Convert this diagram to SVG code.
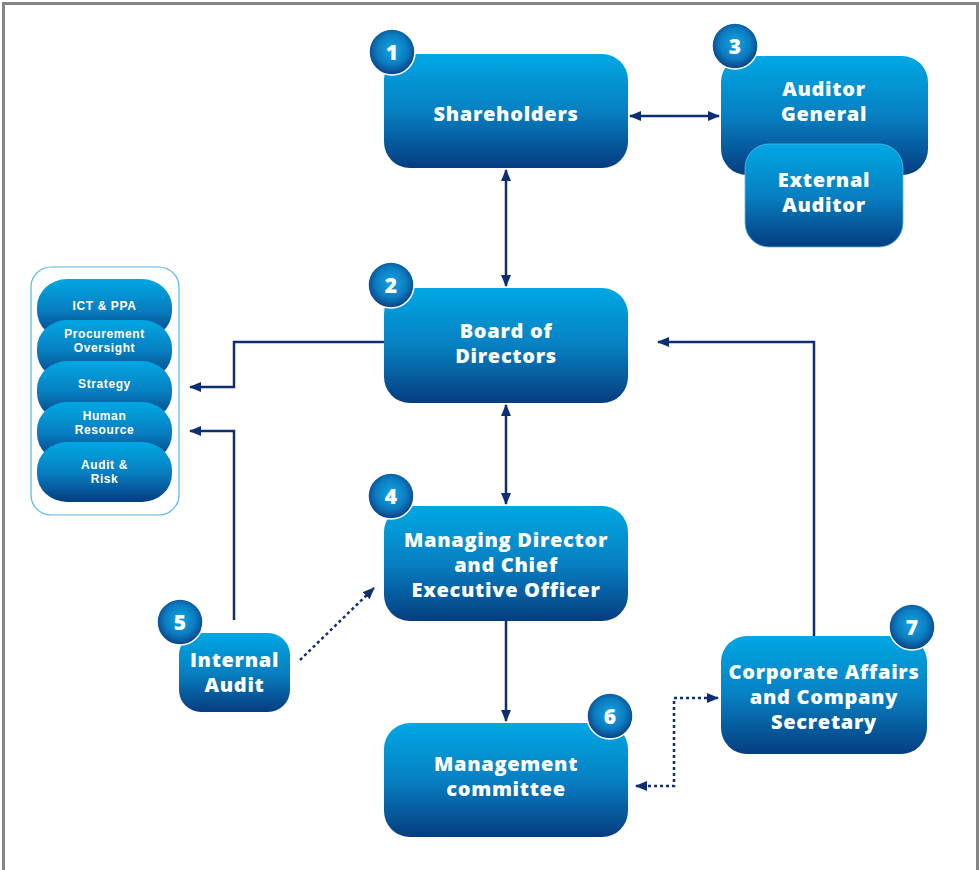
<svg xmlns="http://www.w3.org/2000/svg" width="979" height="870" viewBox="0 0 979 870">
  <defs>
    <linearGradient id="boxFill" x1="0" y1="0" x2="0" y2="1">
      <stop offset="0" stop-color="#00a7e4"/>
      <stop offset="0.5" stop-color="#0780c2"/>
      <stop offset="1" stop-color="#053d80"/>
    </linearGradient>
    <radialGradient id="badgeFill" cx="0.5" cy="0.45" r="0.55">
      <stop offset="0" stop-color="#13a6e2"/>
      <stop offset="0.6" stop-color="#0b7cc0"/>
      <stop offset="1" stop-color="#0a3f82"/>
    </radialGradient>
    <marker id="arrow" viewBox="0 0 12 10" refX="11" refY="5" markerWidth="12" markerHeight="10" markerUnits="userSpaceOnUse" orient="auto-start-reverse">
      <path d="M0,0 L12,5 L0,10 Z" fill="#0d2f72"/>
    </marker>
  </defs>
  <style>
    .box { fill: url(#boxFill); }
    .pill { fill: url(#boxFill); }
    .badge { fill: url(#badgeFill); stroke: #ffffff; stroke-width: 1.5; }
    .label { font-family: "Open Sans", "Liberation Sans", sans-serif; font-weight: 800; font-size: 20px; letter-spacing: 0.7px; fill: #ffffff; text-anchor: middle; }
    .small { font-family: "Liberation Sans", "Open Sans", sans-serif; font-weight: 700; font-size: 12px; letter-spacing: 0.6px; fill: #ffffff; text-anchor: middle; }
    .num { font-family: "Open Sans", "Liberation Sans", sans-serif; font-weight: 800; font-size: 21px; fill: #ffffff; text-anchor: middle; }
    .link { fill: none; stroke: #0d2f72; stroke-width: 2.5; }
    .dotted { stroke-dasharray: 3 3; }
  </style>

  <!-- frame -->
  <path d="M3.5,870 V3.5 H977.5 V870" fill="none" stroke="#858585" stroke-width="3"/>

  <!-- connectors -->
  <g id="connectors">
    <line class="link" x1="630" y1="116" x2="719" y2="116" marker-start="url(#arrow)" marker-end="url(#arrow)"/>
    <line class="link" x1="506" y1="170" x2="506" y2="286" marker-start="url(#arrow)" marker-end="url(#arrow)"/>
    <line class="link" x1="506" y1="405" x2="506" y2="504" marker-start="url(#arrow)" marker-end="url(#arrow)"/>
    <line class="link" x1="506" y1="621" x2="506" y2="721" marker-end="url(#arrow)"/>
    <polyline class="link" points="384,342 234,342 234,387 190,387" marker-end="url(#arrow)"/>
    <polyline class="link" points="234,620 234,431 190,431" marker-end="url(#arrow)"/>
    <line class="link dotted" x1="300" y1="660" x2="374" y2="588" marker-end="url(#arrow)"/>
    <polyline class="link" points="814,636 814,342 658,342" marker-end="url(#arrow)"/>
    <polyline class="link dotted" points="636,786 674,786 674,698 718,698" marker-start="url(#arrow)" marker-end="url(#arrow)"/>
  </g>

  <!-- committees -->
  <g id="committees">
    <rect x="31" y="267" width="148" height="248" rx="20" fill="#ffffff" stroke="#4fb8e8" stroke-width="1.2"/>
    <rect class="pill" x="37" y="279" width="135" height="60" rx="30" ry="28"/>
    <text class="small" x="104.5" y="309.5">ICT &amp; PPA</text>
    <rect class="pill" x="37" y="320" width="135" height="60" rx="30" ry="28"/>
    <text class="small" x="104.5" y="338">Procurement</text>
    <text class="small" x="104.5" y="352">Oversight</text>
    <rect class="pill" x="37" y="361" width="135" height="60" rx="30" ry="28"/>
    <text class="small" x="104.5" y="387.5">Strategy</text>
    <rect class="pill" x="37" y="402" width="135" height="60" rx="30" ry="28"/>
    <text class="small" x="104.5" y="420">Human</text>
    <text class="small" x="104.5" y="434">Resource</text>
    <rect class="pill" x="37" y="442" width="135" height="60" rx="30" ry="28"/>
    <text class="small" x="104.5" y="469">Audit &amp;</text>
    <text class="small" x="104.5" y="483">Risk</text>
  </g>

  <!-- 1 shareholders -->
  <g id="shareholders">
    <rect class="box" x="384" y="54" width="244" height="114" rx="26"/>
    <text class="label" x="506" y="121">Shareholders</text>
    <circle class="badge" cx="392" cy="52" r="23"/>
    <text class="num" x="392" y="59.5">1</text>
  </g>

  <!-- 3 auditors -->
  <g id="auditor-general">
    <rect class="box" x="721" y="56" width="207" height="119" rx="26"/>
    <text class="label" x="824" y="96">Auditor</text>
    <text class="label" x="824" y="121">General</text>
    <circle class="badge" cx="735" cy="46" r="23"/>
    <text class="num" x="735" y="53.5">3</text>
  </g>
  <g id="external-auditor">
    <rect class="box" x="745" y="144" width="158" height="103" rx="24" stroke="#5ab9e6" stroke-width="0.8"/>
    <text class="label" x="824" y="187">External</text>
    <text class="label" x="824" y="212">Auditor</text>
  </g>

  <!-- 2 board -->
  <g id="board">
    <rect class="box" x="384" y="288" width="244" height="115" rx="26"/>
    <text class="label" x="506" y="338">Board of</text>
    <text class="label" x="506" y="363">Directors</text>
    <circle class="badge" cx="391" cy="285" r="23"/>
    <text class="num" x="391" y="292.5">2</text>
  </g>

  <!-- 4 managing director -->
  <g id="managing-director">
    <rect class="box" x="384" y="506" width="244" height="115" rx="26"/>
    <text class="label" x="506" y="547">Managing Director</text>
    <text class="label" x="506" y="572">and Chief</text>
    <text class="label" x="506" y="597">Executive Officer</text>
    <circle class="badge" cx="391" cy="496" r="23"/>
    <text class="num" x="391" y="503.5">4</text>
  </g>

  <!-- 5 internal audit -->
  <g id="internal-audit">
    <rect class="box" x="179" y="633" width="111" height="79" rx="22"/>
    <text class="label" x="234.5" y="667">Internal</text>
    <text class="label" x="234.5" y="692">Audit</text>
    <circle class="badge" cx="180" cy="622" r="23"/>
    <text class="num" x="180" y="629.5">5</text>
  </g>

  <!-- 6 management committee -->
  <g id="management">
    <rect class="box" x="384" y="723" width="244" height="114" rx="26"/>
    <text class="label" x="506" y="771">Management</text>
    <text class="label" x="506" y="796">committee</text>
    <circle class="badge" cx="610" cy="716" r="23"/>
    <text class="num" x="610" y="723.5">6</text>
  </g>

  <!-- 7 corporate affairs -->
  <g id="corporate-affairs">
    <rect class="box" x="721" y="636" width="206" height="118" rx="26"/>
    <text class="label" x="824" y="679">Corporate Affairs</text>
    <text class="label" x="824" y="704">and Company</text>
    <text class="label" x="824" y="729">Secretary</text>
    <circle class="badge" cx="912" cy="627" r="23"/>
    <text class="num" x="912" y="634.5">7</text>
  </g>
</svg>
